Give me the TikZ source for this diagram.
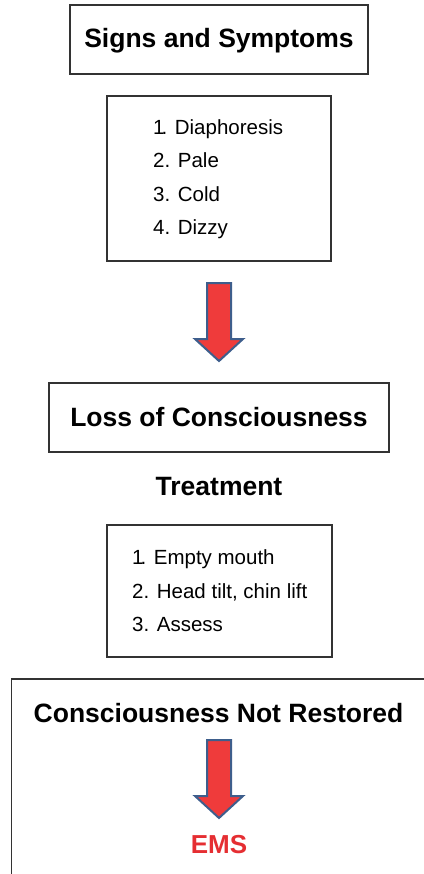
\documentclass[tikz,border=0pt]{standalone}
\usepackage{fontspec}
\setmainfont{Liberation Sans}
\definecolor{arrowfill}{HTML}{EF3B3B}
\definecolor{arrowline}{HTML}{3E5E8C}
\definecolor{boxline}{HTML}{333333}
\definecolor{emsred}{HTML}{E52E32}
\tikzset{
  box/.style={draw=boxline, line width=1.3pt, rectangle, inner sep=0pt},
  title/.style={anchor=base, inner sep=0pt, font=\fontsize{26.5}{30}\selectfont\bfseries},
  item/.style={anchor=base west, inner sep=0pt, font=\fontsize{20.5}{24}\selectfont},
  bigarrow/.style={fill=arrowfill, draw=arrowline, line width=2pt, line join=miter},
}
\begin{document}
\begin{tikzpicture}[x=1pt,y=-1pt]
\useasboundingbox (0,0) rectangle (423,874);
% box 1
\node[box, minimum width=298pt, minimum height=69pt] (b1) at (219,39.5) {};
\node[title] (t1) at (219,48) {Signs and Symptoms};
% box 2
\node[box, minimum width=224pt, minimum height=165pt] (b2) at (219,178.5) {};
\node[item] (l1) at (153,135) {1\kern-3pt. Diaphoresis};
\node[item] (l2) at (153,168) {2. Pale};
\node[item] (l3) at (153,202) {3. Cold};
\node[item] (l4) at (153,235) {4. Dizzy};
% arrow 1
\draw[bigarrow] (207,283) -- (231,283) -- (231,339) -- (243,339) -- (219,361) -- (195,339) -- (207,339) -- cycle;
% box 3
\node[box, minimum width=340pt, minimum height=69pt] (b3) at (219,417.5) {};
\node[title] (t3) at (219,426) {Loss of Consciousness};
% treatment
\node[title] (tr) at (219,495) {Treatment};
% box 4
\node[box, minimum width=225pt, minimum height=132pt] (b4) at (219.5,591) {};
\node[item] (m1) at (132,564) {1\kern-3pt. Empty mouth};
\node[item] (m2) at (132,598) {2. Head tilt, chin lift};
\node[item] (m3) at (132,631) {3. Assess};
% box 5 (open to the right and bottom)
\draw[draw=boxline, line width=1.5pt] (11.5,880) -- (11.5,679) -- (430,679);
\node[title] (t5) at (218.5,722) {Consciousness Not Restored};
% arrow 2
\draw[bigarrow] (207,740) -- (231,740) -- (231,796) -- (243,796) -- (219,818) -- (195,796) -- (207,796) -- cycle;
\node[title, text=emsred, font=\fontsize{26}{30}\selectfont\bfseries] (ems) at (219,853) {EMS};
\end{tikzpicture}
\end{document}
